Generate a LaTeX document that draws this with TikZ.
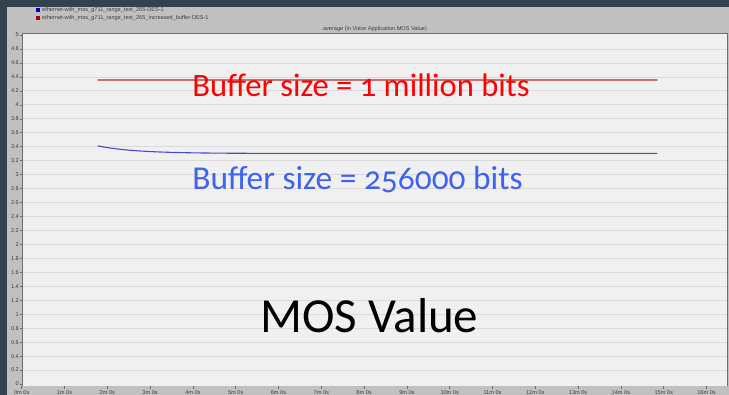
\documentclass[tikz,border=0pt]{standalone}
\usepackage{fontspec}
\setmainfont{Carlito}[Numbers=OldStyle]
\newfontfamily\axisfont{Liberation Sans}
\definecolor{slate}{HTML}{33434B}
\definecolor{panel}{HTML}{C0C0C0}
\definecolor{plotbg}{HTML}{F0F0F0}
\definecolor{gridc}{HTML}{DADADA}
\definecolor{framec}{HTML}{6E6E6E}
\definecolor{seriesred}{HTML}{C87070}
\definecolor{seriesblue}{HTML}{4A4AD0}
\definecolor{labelblue}{HTML}{3F62F0}
\tikzset{
  ticklabel/.style={font=\axisfont\fontsize{5.6}{6}\selectfont, text=black!75, inner sep=0pt},
  bigcaption/.style={inner sep=0pt, anchor=base},
  series/.style={line width=1.1pt, line cap=round}
}
\begin{document}
\begin{tikzpicture}[x=1pt,y=-1pt]
\useasboundingbox (0,0) rectangle (729,395);
% window background and chart panel
\fill[slate] (0,0) rectangle (729,395);
\fill[panel] (7,7) rectangle (729,395);
% legend
\fill[blue!70!black] (36,8.5) rectangle (40,12.5);
\fill[red!65!black] (36,16) rectangle (40,20);
\node[ticklabel, anchor=west] (leg1) at (42,10.5) {ethernet-with\_mos\_g711\_range\_test\_265-DES-1};
\node[ticklabel, anchor=west] (leg2) at (42,18) {ethernet-with\_mos\_g711\_range\_test\_265\_increased\_buffer-DES-1};
% chart title
\node[ticklabel] (title) at (375,29.5) {average (in Voice Application.MOS Value)};
% plot area
\fill[plotbg] (22,33) rectangle (727,386);
\foreach \k in {1,...,24} {
  \draw[gridc, line width=0.7pt] (22,{384-13.96*\k}) -- (727,{384-13.96*\k});
}
\draw[framec, line width=0.8pt] (22,386) -- (22,33) -- (727,33) -- (727,386);
% y axis ticks and labels
\foreach \v/\t in {0/0,1/0.2,2/0.4,3/0.6,4/0.8,5/1,6/1.2,7/1.4,8/1.6,9/1.8,10/2,11/2.2,12/2.4,13/2.6,14/2.8,15/3,16/3.2,17/3.4,18/3.6,19/3.8,20/4,21/4.2,22/4.4,23/4.6,24/4.8,25/5} {
  \draw[framec, line width=0.5pt] (19.5,{384-13.96*\v}) -- (22,{384-13.96*\v});
  \node[ticklabel, anchor=east] at (19,{384-13.96*\v}) {\t};
}
% x axis ticks and labels
\foreach \m in {0,...,16} {
  \draw[framec, line width=0.5pt] ({21.7+42.8*\m},386) -- ({21.7+42.8*\m},389);
  \node[ticklabel, anchor=north] at ({21.7+42.8*\m},390) {\m m 0s};
}
% data series
\draw[seriesred, series] (98,80) -- (657,80);
\draw[seriesblue, series] plot[domain=98:657, samples=90, smooth]
  (\x, {384-69.8*(3.303+0.107*exp(-(\x-98)/38))});
% captions
\node[bigcaption, text=red, font=\fontsize{32.6}{36}\selectfont] (redcap) at (361,96.7) {Buffer size = 1 million bits};
\node[bigcaption, text=labelblue, font=\fontsize{33.4}{37}\selectfont] (bluecap) at (357.5,190) {Buffer size = 256000 bits};
\node[bigcaption, text=black, font=\fontsize{49}{53}\selectfont] (moscap) at (369.5,333) {MOS Value};
\end{tikzpicture}
\end{document}
